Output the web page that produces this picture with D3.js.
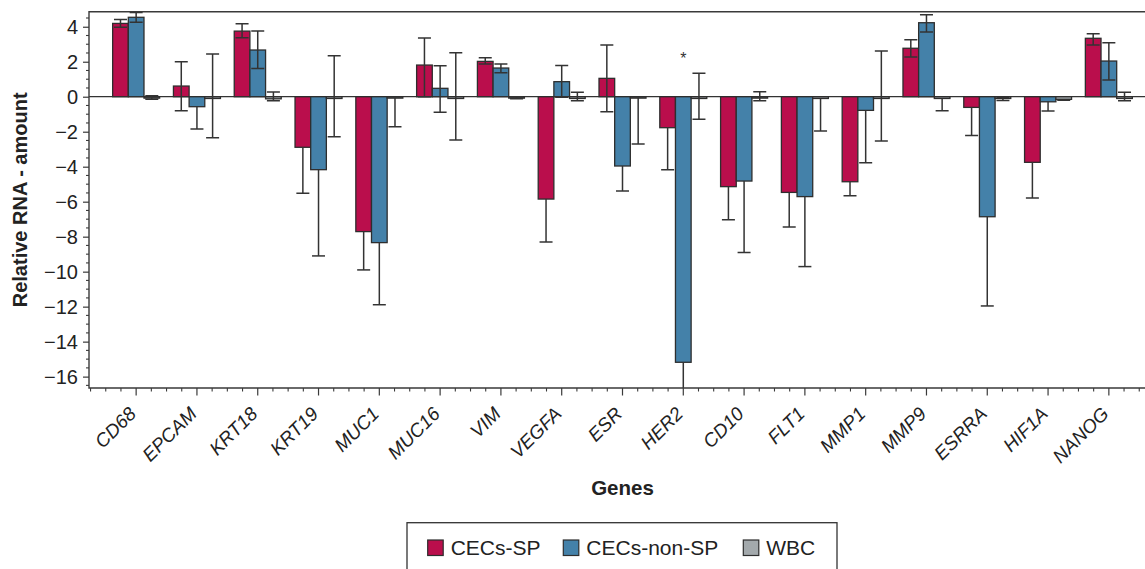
<!DOCTYPE html>
<html lang="en">
<head>
  <meta charset="UTF-8">
  <title>Relative RNA amount</title>
  <style>
    html, body { margin: 0; padding: 0; background: #fff; overflow: hidden; }
    svg { display: block; font-family: "Liberation Sans", Arial, Helvetica, sans-serif; }
    .frame { stroke: #3a3a3a; stroke-width: 1.4; fill: none; }
    .tick line { stroke: #3a3a3a; stroke-width: 1.2; }
    .err { stroke: #333; stroke-width: 1.5; }
    .bar { stroke: #2e2e2e; stroke-width: 1.3; }
  </style>
</head>
<body>
  <svg id="chart" width="1145" height="569"></svg>
  <script src="https://cdn.jsdelivr.net/npm/d3@7/dist/d3.min.js"></script>
  <script>
    // genes on x axis
    const genes = ['CD68', 'EPCAM', 'KRT18', 'KRT19', 'MUC1', 'MUC16', 'VIM', 'VEGFA', 'ESR',
      'HER2', 'CD10', 'FLT1', 'MMP1', 'MMP9', 'ESRRA', 'HIF1A', 'NANOG']
    const seriesNames = ['CECs-SP', 'CECs-non-SP', 'WBC']
    const seriesColors = ['#BA0E4C', '#4481A9', '#A3A9AC']

    // CECs-SP
    const sp   = [4.19, 0.61, 3.75, -2.89, -7.71, 1.81, 2.02, -5.85, 1.05, -1.77, -5.14, -5.47, -4.86, 2.77, -0.61, -3.75, 3.34]
    const spLo = [3.97, -0.8, 3.37, -5.52, -9.9, 0.0, 1.87, -8.3, -0.86, -4.17, -7.03, -7.45, -5.66, 2.27, -2.21, -5.79, 2.95]
    const spHi = [4.42, 2.0, 4.17, -2.89, -7.71, 3.35, 2.23, -5.85, 2.95, -1.77, -5.14, -5.47, -4.86, 3.26, -0.61, -3.75, 3.6]

    // CECs-non-SP
    const nonSp   = [4.54, -0.57, 2.67, -4.17, -8.34, 0.48, 1.64, 0.86, -3.96, -15.18, -4.82, -5.71, -0.78, 4.23, -6.86, -0.29, 2.04]
    const nonSpLo = [4.25, -1.85, 1.62, -9.1, -11.89, -0.89, 1.37, -0.03, -5.39, -17.5, -8.91, -9.71, -3.77, 3.7, -11.96, -0.82, 0.95]
    const nonSpHi = [4.82, -0.57, 3.75, -4.17, -8.34, 1.77, 1.87, 1.79, -3.96, -15.18, -4.82, -5.71, -0.78, 4.69, -6.86, -0.29, 3.09]

    // WBC
    const wbc   = [-0.08, -0.1, -0.12, -0.1, -0.08, -0.1, -0.08, -0.1, -0.08, -0.1, -0.08, -0.1, -0.1, -0.1, -0.1, -0.15, -0.1]
    const wbcLo = [-0.15, -2.34, -0.23, -2.29, -1.71, -2.47, -0.12, -0.23, -2.7, -1.29, -0.23, -1.96, -2.53, -0.8, -0.22, -0.2, -0.23]
    const wbcHi = [0.05, 2.44, 0.27, 2.34, -0.08, 2.51, 0.0, 0.25, -0.08, 1.34, 0.29, -0.1, 2.61, -0.1, -0.05, -0.15, 0.25]

    const yTicks = [-16, -14, -12, -10, -8, -6, -4, -2, 0, 2, 4]
    const starGenes = ['HER2']

    const vals = [sp, nonSp, wbc], los = [spLo, nonSpLo, wbcLo], his = [spHi, nonSpHi, wbcHi]

    const svg = d3.select('#chart')
    const mLeft = 89, mRight = 1156, mTop = 11.7, mBottom = 388

    const x = d3.scaleBand().domain(genes).range([mLeft, mRight]).paddingInner(0.227).paddingOuter(0.389)
    const xs = d3.scaleBand().domain(seriesNames).range([0, x.bandwidth()])
    const y = d3.scaleLinear().domain([-16.65, 4.86]).range([mBottom, mTop])

    svg.append('defs').append('clipPath').attr('id', 'plot-clip')
      .append('rect').attr('x', mLeft).attr('y', mTop).attr('width', mRight - mLeft).attr('height', mBottom - mTop)

    const plot = svg.append('g').attr('clip-path', 'url(#plot-clip)')

    // zero line
    plot.append('line').attr('x1', mLeft).attr('x2', mRight).attr('y1', y(0)).attr('y2', y(0))
      .attr('stroke', '#333').attr('stroke-width', 1.3)

    // bars + error bars
    const rows = []
    genes.forEach((g, i) => {
      seriesNames.forEach((s, k) => {
        rows.push({ gene: g, series: s, k: k, v: vals[k][i], lo: los[k][i], hi: his[k][i] })
      })
    })

    plot.selectAll('.bar').data(rows).enter().append('rect')
      .attr('class', 'bar')
      .attr('x', d => x(d.gene) + xs(d.series))
      .attr('width', xs.bandwidth())
      .attr('y', d => y(Math.max(0, d.v)))
      .attr('height', d => Math.abs(y(d.v) - y(0)))
      .attr('fill', d => seriesColors[d.k])

    const cap = 13
    const eg = plot.selectAll('.errg').data(rows).enter().append('g')
      .attr('transform', d => `translate(${x(d.gene) + xs(d.series) + xs.bandwidth() / 2},0)`)
    eg.append('line').attr('class', 'err')
      .attr('y1', d => y(d.lo)).attr('y2', d => y(d.hi))
    eg.append('line').attr('class', 'err')
      .attr('x1', -cap / 2).attr('x2', cap / 2)
      .attr('y1', d => y(d.lo)).attr('y2', d => y(d.lo))
    eg.filter(d => d.hi !== d.v).append('line').attr('class', 'err')
      .attr('x1', -cap / 2).attr('x2', cap / 2)
      .attr('y1', d => y(d.hi)).attr('y2', d => y(d.hi))

    // significance mark
    svg.selectAll('.star').data(starGenes).enter().append('text')
      .attr('x', d => x(d) + x.bandwidth() / 2)
      .attr('y', 64)
      .attr('text-anchor', 'middle')
      .attr('font-size', 16)
      .attr('fill', '#333')
      .text('*')

    // frame
    svg.append('path').attr('class', 'frame')
      .attr('d', `M${mRight},${mTop}H${mLeft}V${mBottom}H${mRight}`)

    // y axis
    const yAxis = svg.append('g').attr('transform', `translate(${mLeft},0)`)
      .call(d3.axisLeft(y).tickValues(yTicks).tickSize(6).tickPadding(5)
        .tickFormat(d => d < 0 ? '\u2212' + Math.abs(d) : String(d)))
    yAxis.select('.domain').remove()
    yAxis.selectAll('text').attr('font-size', 20).attr('fill', '#222')
      .attr('font-family', '"Liberation Sans", Arial, sans-serif')
    const yMinor = d3.range(-16.5, 4.6, 0.5).filter(v => !yTicks.includes(v))
    svg.append('g').selectAll('line').data(yMinor).enter().append('line')
      .attr('x1', mLeft - 3).attr('x2', mLeft)
      .attr('y1', d => y(d)).attr('y2', d => y(d))
      .attr('stroke', '#3a3a3a').attr('stroke-width', 1.1)

    // x axis
    const xAxis = svg.append('g').attr('transform', `translate(0,${mBottom})`)
      .call(d3.axisBottom(x).tickSize(7.5).tickFormat(''))
    xAxis.select('.domain').remove()
    const step = x.step()
    const xMinor = []
    genes.forEach(g => {
      const c = x(g) + x.bandwidth() / 2
      xMinor.push(c - step / 4, c + step / 4, c + step / 2)
      if (g === genes[0]) xMinor.push(c - step / 2, c - 3 * step / 4)
    })
    svg.append('g').selectAll('line').data(xMinor).enter().append('line')
      .attr('x1', d => d).attr('x2', d => d)
      .attr('y1', mBottom).attr('y2', mBottom + 3.5)
      .attr('stroke', '#3a3a3a').attr('stroke-width', 1.1)

    svg.append('g').selectAll('text').data(genes).enter().append('text')
      .attr('transform', d => `translate(${x(d) + x.bandwidth() / 2 + 1},${mBottom + 27}) rotate(-45)`)
      .attr('text-anchor', 'end')
      .attr('font-size', 19)
      .attr('font-style', 'italic')
      .attr('fill', '#222')
      .text(d => d)

    // axis titles
    svg.append('text')
      .attr('transform', `translate(27,${(mTop + mBottom) / 2}) rotate(-90)`)
      .attr('text-anchor', 'middle')
      .attr('font-size', 20).attr('font-weight', 'bold').attr('fill', '#222')
      .text('Relative RNA - amount')
    svg.append('text')
      .attr('x', (mLeft + mRight) / 2).attr('y', 495)
      .attr('text-anchor', 'middle')
      .attr('font-size', 20.5).attr('font-weight', 'bold').attr('fill', '#222')
      .text('Genes')

    // legend
    const lg = svg.append('g')
    lg.append('rect').attr('x', 407).attr('y', 522.7).attr('width', 430).attr('height', 60)
      .attr('fill', 'none').attr('stroke', '#333').attr('stroke-width', 1.3)
    const legX = [427.7, 563.3, 743.3]
    seriesNames.forEach((s, k) => {
      lg.append('rect').attr('x', legX[k]).attr('y', 540).attr('width', 15.5).attr('height', 15.5)
        .attr('fill', seriesColors[k]).attr('stroke', '#2e2e2e').attr('stroke-width', 1.2)
      lg.append('text').attr('x', legX[k] + 23).attr('y', 554.5)
        .attr('font-size', 21).attr('fill', '#222').text(s)
    })
  </script>
</body>
</html>
